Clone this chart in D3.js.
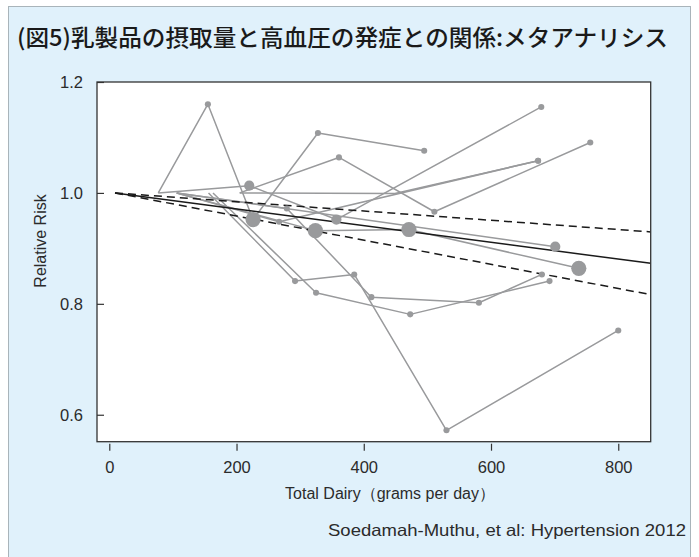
<!DOCTYPE html>
<html>
<head>
<meta charset="utf-8">
<script src="https://cdn.jsdelivr.net/npm/d3@7"></script>
<style>
  html, body { margin: 0; padding: 0; background: #ffffff; }
  svg { display: block; }
</style>
</head>
<body>
<svg id="chart" width="699" height="557"></svg>
<script>
// ---- data -------------------------------------------------------------
const titleText = "(図5)乳製品の摂取量と高血圧の発症との関係:メタアナリシス";
const xAxisTitle = "Total Dairy（grams per day）";
const yAxisTitle = "Relative Risk";
const sourceText = "Soedamah-Muthu, et al: Hypertension 2012";

const xTicks = [0, 200, 400, 600, 800];
const yTicks = [0.6, 0.8, 1.0, 1.2];
const yTickLabels = ["0.6", "0.8", "1.0", "1.2"];

// study-specific dose-response estimates (dairy g/day, relative risk,
// marker weight; a weight of 0 means no marker at that point)
const studyDairy = [
  [77, 155, 226, 328, 495],
  [77, 220, 357, 679],
  [205, 361, 511, 756],
  [205, 449, 674],
  [106, 267, 674],
  [106, 324, 471, 738],
  [106, 701],
  [106, 279, 412, 581, 680],
  [156, 292, 385, 530, 800],
  [163, 325, 473, 692]
];
const studyRR = [
  [1.0, 1.160, 0.952, 1.108, 1.076],
  [1.0, 1.013, 0.952, 1.155],
  [1.0, 1.064, 0.966, 1.091],
  [1.0, 0.999, 1.058],
  [1.0, 0.948, 1.058],
  [1.0, 0.932, 0.934, 0.864],
  [1.0, 0.903],
  [1.0, 0.972, 0.812, 0.802, 0.853],
  [1.0, 0.841, 0.853, 0.572, 0.752],
  [1.0, 0.820, 0.781, 0.841]
];
const studyWeight = [
  [0, 1, 6.2, 1, 1],
  [0, 2.8, 2.8, 1],
  [0, 1, 1, 1],
  [0, 0, 1],
  [0, 1, 1],
  [0, 6.2, 6.2, 6.2],
  [0, 2.8],
  [0, 1, 1, 1, 1],
  [0, 1, 1, 1, 1],
  [0, 1, 1, 1]
];

// pooled linear trend with 95% confidence band
const pooledDairy = [9, 851];
const pooledRR = [1.0, 0.873];
const pooledLower = [1.0, 0.8166];
const pooledUpper = [1.0, 0.9297];

// ---- layout -----------------------------------------------------------
const plot = { left: 97, top: 82, right: 650.7, bottom: 441.7 };

const svg = d3.select("#chart");

// panel background
svg.append("rect")
  .attr("x", 8.5).attr("y", 6.5)
  .attr("width", 682).attr("height", 560)
  .attr("fill", "#e0f1fb")
  .attr("stroke", "#a9b4ba")
  .attr("stroke-width", 1);

// title
svg.append("text")
  .attr("x", 17).attr("y", 46)
  .attr("font-family", "'Noto Sans CJK JP', 'Noto Sans', sans-serif")
  .attr("font-size", 23)
  .attr("font-weight", 500)
  .attr("fill", "#1a1a1a")
  .attr("textLength", 651)
  .attr("lengthAdjust", "spacingAndGlyphs")
  .text(titleText);

// plot background
svg.append("rect")
  .attr("x", plot.left).attr("y", plot.top)
  .attr("width", plot.right - plot.left)
  .attr("height", plot.bottom - plot.top)
  .attr("fill", "#ffffff");

const x = d3.scaleLinear().domain([-19.3, 851]).range([plot.left, plot.right]);
const y = d3.scaleLinear().domain([0.5514, 1.2]).range([plot.bottom, plot.top]);

const font = "'Liberation Sans', Arial, sans-serif";

// clip for the data layer
svg.append("clipPath").attr("id", "plotClip")
  .append("rect")
  .attr("x", plot.left).attr("y", plot.top)
  .attr("width", plot.right - plot.left)
  .attr("height", plot.bottom - plot.top);

const dataLayer = svg.append("g").attr("clip-path", "url(#plotClip)");

const line = d3.line().x(d => x(d[0])).y(d => y(d[1]));

const studies = studyDairy.map((ds, i) =>
  ds.map((d, j) => [d, studyRR[i][j], studyWeight[i][j]]));

const grey = "#999a9c";

// study curves
dataLayer.selectAll("path.study")
  .data(studies)
  .join("path")
  .attr("class", "study")
  .attr("d", line)
  .attr("fill", "none")
  .attr("stroke", grey)
  .attr("stroke-width", 1.5)
  .attr("stroke-linejoin", "round");

// pooled trend and confidence limits
const pooled = pooledDairy.map((d, i) => [d, pooledRR[i]]);
const lower = pooledDairy.map((d, i) => [d, pooledLower[i]]);
const upper = pooledDairy.map((d, i) => [d, pooledUpper[i]]);

dataLayer.append("path").attr("d", line(upper))
  .attr("fill", "none").attr("stroke", "#1a1a1a")
  .attr("stroke-width", 1.5).attr("stroke-dasharray", "8,5");
dataLayer.append("path").attr("d", line(lower))
  .attr("fill", "none").attr("stroke", "#1a1a1a")
  .attr("stroke-width", 1.5).attr("stroke-dasharray", "8,5");
dataLayer.append("path").attr("d", line(pooled))
  .attr("fill", "none").attr("stroke", "#1a1a1a")
  .attr("stroke-width", 1.5);

// study markers, area proportional to weight
const r = d3.scaleSqrt().domain([0, 6.2]).range([0, 7.6]);
const markers = studies.flat().filter(d => d[2] > 0);
dataLayer.selectAll("circle.mark")
  .data(markers)
  .join("circle")
  .attr("class", "mark")
  .attr("cx", d => x(d[0]))
  .attr("cy", d => y(d[1]))
  .attr("r", d => r(d[2]))
  .attr("fill", grey);

// frame
svg.append("rect")
  .attr("x", plot.left).attr("y", plot.top)
  .attr("width", plot.right - plot.left)
  .attr("height", plot.bottom - plot.top)
  .attr("fill", "none")
  .attr("stroke", "#333")
  .attr("stroke-width", 1.3);

// y axis: ticks point inward
const yAxis = d3.axisLeft(y)
  .tickValues(yTicks)
  .tickSize(-7)
  .tickPadding(14)
  .tickFormat((d, i) => yTickLabels[i]);
const gy = svg.append("g")
  .attr("transform", `translate(${plot.left},0)`)
  .call(yAxis);
gy.select(".domain").remove();
gy.selectAll(".tick line").attr("stroke", "#333").attr("stroke-width", 1.2);
gy.selectAll(".tick text")
  .attr("font-family", font).attr("font-size", 16.5).attr("fill", "#2b2b2b");

// x axis: ticks outside, slightly detached from the frame
const xAxis = d3.axisBottom(x)
  .tickValues(xTicks)
  .tickSize(7)
  .tickPadding(11)
  .tickFormat(d3.format("d"));
const gx = svg.append("g")
  .attr("transform", `translate(0,${plot.bottom + 2})`)
  .call(xAxis);
gx.select(".domain").remove();
gx.selectAll(".tick line").attr("stroke", "#333").attr("stroke-width", 1.2);
gx.selectAll(".tick text")
  .attr("font-family", font).attr("font-size", 16.5).attr("fill", "#2b2b2b");

// axis titles
svg.append("text")
  .attr("x", 390).attr("y", 499)
  .attr("text-anchor", "middle")
  .attr("font-family", font).attr("font-size", 16)
  .attr("fill", "#2b2b2b")
  .text(xAxisTitle);

svg.append("text")
  .attr("transform", "translate(46,241) rotate(-90)")
  .attr("text-anchor", "middle")
  .attr("font-family", font).attr("font-size", 16)
  .attr("fill", "#2b2b2b")
  .text(yAxisTitle);

// source note
svg.append("text")
  .attr("x", 686).attr("y", 536)
  .attr("text-anchor", "end")
  .attr("font-family", font).attr("font-size", 16.5)
  .attr("fill", "#2b2b2b")
  .attr("textLength", 358)
  .attr("lengthAdjust", "spacingAndGlyphs")
  .text(sourceText);
</script>
</body>
</html>
